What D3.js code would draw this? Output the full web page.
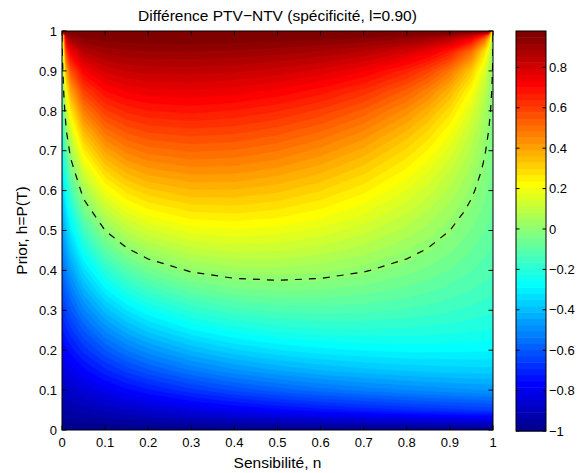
<!DOCTYPE html>
<html><head><meta charset="utf-8">
<script src="https://cdn.jsdelivr.net/npm/d3@7"></script>
<style>
body{margin:0;background:#fff}
svg{display:block}
text{font-family:"Liberation Sans",Arial,Helvetica,sans-serif;fill:#000}
</style>
</head><body>
<svg id="chart" width="578" height="473"></svg>
<script>
// ---------- data ----------
const sensitivities = [0, 0.01, 0.02, 0.05, 0.1, 0.15, 0.2, 0.3, 0.4, 0.5, 0.6, 0.7, 0.8, 0.85, 0.9, 0.95, 0.98, 0.99, 1];
const priors = [0, 0.05, 0.1, 0.15, 0.2, 0.25, 0.3, 0.35, 0.4, 0.45, 0.5, 0.55, 0.6, 0.65, 0.7, 0.75, 0.8, 0.85, 0.9, 0.95, 0.98, 0.99, 1];
// PTV - NTV, one row per prior (bottom to top), one column per sensitivity
const difference = [
  [-1,-1,-1,-1,-1,-1,-1,-1,-1,-1,-1,-1,-1,-1,-1,-1,-1,-1,-1],
  [-.945,-.940,-.935,-.922,-.900,-.879,-.860,-.824,-.792,-.763,-.737,-.714,-.692,-.682,-.673,-.664,-.659,-.657,-.655],
  [-.890,-.880,-.870,-.842,-.800,-.762,-.728,-.670,-.623,-.585,-.553,-.527,-.505,-.496,-.488,-.480,-.476,-.475,-.474],
  [-.836,-.820,-.805,-.762,-.700,-.648,-.604,-.533,-.481,-.442,-.413,-.392,-.377,-.371,-.367,-.364,-.362,-.362,-.362],
  [-.783,-.760,-.738,-.680,-.600,-.536,-.485,-.409,-.357,-.322,-.300,-.287,-.281,-.280,-.281,-.283,-.284,-.285,-.286],
  [-.730,-.699,-.671,-.597,-.500,-.427,-.371,-.294,-.247,-.219,-.204,-.200,-.204,-.208,-.214,-.222,-.227,-.229,-.231],
  [-.677,-.639,-.603,-.512,-.400,-.321,-.263,-.188,-.146,-.126,-.120,-.125,-.139,-.149,-.160,-.174,-.183,-.186,-.189],
  [-.626,-.577,-.533,-.425,-.300,-.216,-.158,-.087,-.053,-.041,-.043,-.058,-.082,-.097,-.115,-.134,-.147,-.152,-.157],
  [-.574,-.514,-.462,-.337,-.200,-.114,-.056,.008,.035,.040,.029,.005,-.029,-.050,-.074,-.101,-.118,-.124,-.130],
  [-.524,-.451,-.388,-.246,-.100,-.013,.042,.099,.119,.116,.097,.066,.021,-.006,-.036,-.071,-.093,-.101,-.109],
  [-.474,-.385,-.312,-.153,0,.086,.137,.188,.200,.190,.165,.125,.071,.038,0,-.043,-.071,-.081,-.091],
  [-.424,-.318,-.233,-.057,.100,.183,.230,.273,.279,.264,.232,.185,.121,.081,.036,-.016,-.051,-.063,-.076],
  [-.375,-.247,-.149,.041,.200,.279,.321,.357,.357,.337,.300,.246,.173,.127,.074,.011,-.031,-.047,-.063],
  [-.326,-.172,-.060,.144,.300,.373,.411,.439,.435,.411,.370,.311,.229,.177,.115,.040,-.012,-.031,-.051],
  [-.278,-.091,.036,.250,.400,.466,.498,.520,.512,.486,.442,.380,.291,.232,.160,.072,.007,-.016,-.041],
  [-.231,-.002,.141,.360,.500,.557,.584,.600,.590,.563,.519,.455,.360,.296,.214,.109,.030,-.0003,-.032],
  [-.184,.101,.258,.475,.600,.648,.669,.680,.668,.642,.600,.537,.440,.371,.281,.156,.057,.018,-.024],
  [-.137,.223,.392,.596,.700,.737,.753,.760,.748,.725,.687,.629,.536,.465,.367,.221,.094,.042,-.017],
  [-.091,.382,.550,.723,.800,.826,.836,.839,.830,.812,.782,.734,.653,.587,.488,.322,.155,.080,-.011],
  [-.045,.610,.746,.857,.900,.913,.918,.919,.914,.903,.885,.856,.802,.754,.673,.508,.292,.169,-.005],
  [-.018,.812,.889,.942,.960,.965,.967,.968,.965,.960,.953,.939,.913,.889,.843,.729,.519,.350,-.002],
  [-.009,.899,.943,.971,.980,.983,.984,.984,.983,.980,.976,.969,.955,.942,.916,.845,.686,.523,-.001],
  [1,1,1,1,1,1,1,1,1,1,1,1,1,1,1,1,1,1,-.001]
];
const xTicks = [0, 0.1, 0.2, 0.3, 0.4, 0.5, 0.6, 0.7, 0.8, 0.9, 1];
const yTicks = [0, 0.1, 0.2, 0.3, 0.4, 0.5, 0.6, 0.7, 0.8, 0.9, 1];
const colorTicks = [-1, -0.8, -0.6, -0.4, -0.2, 0, 0.2, 0.4, 0.6, 0.8];
const colorDomain = [-1, 0.98];
const zeroLevel = 0;
const titleText = "Différence PTV\u2212NTV (spécificité, l=0.90)";
const xLabelText = "Sensibilité, n";
const yLabelText = "Prior, h=P(T)";

// ---------- layout ----------
const plot = {left: 62, right: 493, top: 31, bottom: 430};
const cbar = {left: 516, right: 546, top: 31, bottom: 431};
const nColors = 64;

// MATLAB-style jet colormap
function jet(m) {
  const n = Math.ceil(m / 4);
  const u = [...d3.range(1, n + 1).map(i => i / n), ...Array(n - 1).fill(1), ...d3.range(n, 0, -1).map(i => i / n)];
  const g0 = Math.ceil(n / 2) - (m % 4 === 1 ? 1 : 0);
  const J = Array.from({length: m}, () => [0, 0, 0]);
  u.forEach((v, k) => {
    const g = g0 + k + 1, r = g + n, b = g - n;
    if (r >= 1 && r <= m) J[r - 1][0] = v;
    if (g >= 1 && g <= m) J[g - 1][1] = v;
    if (b >= 1 && b <= m) J[b - 1][2] = v;
  });
  return J.map(c => d3.rgb(c[0] * 255, c[1] * 255, c[2] * 255).formatHex());
}
const jetColors = jet(nColors);
const color = d3.scaleQuantize(colorDomain, jetColors);
const step = (colorDomain[1] - colorDomain[0]) / nColors;
const levels = d3.range(nColors).map(k => colorDomain[0] + k * step);

const svg = d3.select("#chart");
const x = d3.scaleLinear([0, 1], [plot.left, plot.right]);
const y = d3.scaleLinear([0, 1], [plot.bottom, plot.top]);

const dx = sensitivities.length, dy = priors.length;
const values = difference.flat();
// grid coordinate (sample i sits at i+0.5) -> data value
const colToN = d3.scaleLinear(d3.range(dx).map(i => i + 0.5), sensitivities).clamp(true);
const rowToH = d3.scaleLinear(d3.range(dy).map(j => j + 0.5), priors).clamp(true);
const toPx = (px, py) => [x(colToN(px)), y(rowToH(py))];
const proj = d3.geoTransform({point(px, py) { const p = toPx(px, py); this.stream.point(p[0], p[1]); }});
const path = d3.geoPath(proj);

svg.append("clipPath").attr("id", "clip").append("rect")
  .attr("x", plot.left).attr("y", plot.top)
  .attr("width", plot.right - plot.left).attr("height", plot.bottom - plot.top);

const field = svg.append("g").attr("clip-path", "url(#clip)");
field.append("rect").attr("x", plot.left).attr("y", plot.top)
  .attr("width", plot.right - plot.left).attr("height", plot.bottom - plot.top)
  .attr("fill", jetColors[0]);
const bands = d3.contours().size([dx, dy]).thresholds(levels)(values);
field.selectAll("path.band").data(bands).join("path")
  .attr("class", "band")
  .attr("d", path)
  .attr("fill", d => color(d.value + step / 2))
  .attr("stroke", d => color(d.value + step / 2))
  .attr("stroke-width", 0.4);

// zero contour (dashed), skipping parts lying on the plot frame
const zc = d3.contours().size([dx, dy]).contour(values, zeroLevel);
const eps = 0.01;
function edges(p) {
  const e = [];
  if (Math.abs(p[0] - plot.left) < eps) e.push("l");
  if (Math.abs(p[0] - plot.right) < eps) e.push("r");
  if (Math.abs(p[1] - plot.top) < eps) e.push("t");
  if (Math.abs(p[1] - plot.bottom) < eps) e.push("b");
  return e;
}
let dStr = "";
zc.coordinates.forEach(poly => poly.forEach(ring => {
  const pts = ring.map(c => toPx(c[0], c[1]));
  let penDown = false;
  for (let i = 1; i < pts.length; i++) {
    const a = pts[i - 1], b = pts[i];
    const ea = edges(a), eb = edges(b);
    const onFrame = ea.some(e => eb.includes(e));
    if (onFrame) { penDown = false; continue; }
    if (!penDown) { dStr += `M${a[0].toFixed(2)},${a[1].toFixed(2)}`; penDown = true; }
    dStr += `L${b[0].toFixed(2)},${b[1].toFixed(2)}`;
  }
}));
field.append("path").attr("d", dStr).attr("fill", "none")
  .attr("stroke", "#000").attr("stroke-width", 1.2)
  .attr("stroke-dasharray", "7,7");

// axes frame and ticks (inward, mirrored)
const fmt = d3.format("~g");
const tickLen = 4.5;
const axes = svg.append("g").attr("stroke", "#000").attr("stroke-width", 1);
xTicks.forEach(t => {
  const px = x(t);
  axes.append("line").attr("x1", px).attr("x2", px).attr("y1", plot.bottom).attr("y2", plot.bottom - tickLen);
  axes.append("line").attr("x1", px).attr("x2", px).attr("y1", plot.top).attr("y2", plot.top + tickLen);
});
yTicks.forEach(t => {
  const py = y(t);
  axes.append("line").attr("x1", plot.left).attr("x2", plot.left + tickLen).attr("y1", py).attr("y2", py);
  axes.append("line").attr("x1", plot.right).attr("x2", plot.right - tickLen).attr("y1", py).attr("y2", py);
});
axes.append("rect").attr("x", plot.left).attr("y", plot.top)
  .attr("width", plot.right - plot.left).attr("height", plot.bottom - plot.top)
  .attr("fill", "none");

const labels = svg.append("g").attr("font-size", 13);
xTicks.forEach(t => {
  labels.append("text").attr("x", x(t)).attr("y", plot.bottom + 17)
    .attr("text-anchor", "middle").text(fmt(t));
});
yTicks.forEach(t => {
  labels.append("text").attr("x", plot.left - 5).attr("y", y(t) + 4.7)
    .attr("text-anchor", "end").text(fmt(t));
});

// colorbar
const cy = d3.scaleLinear(colorDomain, [cbar.bottom, cbar.top]);
const cb = svg.append("g");
levels.forEach(v => {
  cb.append("rect").attr("x", cbar.left).attr("width", cbar.right - cbar.left)
    .attr("y", cy(v + step)).attr("height", cy(v) - cy(v + step) + 0.5)
    .attr("fill", color(v + step / 2));
});
colorTicks.forEach(t => {
  const py = cy(t);
  cb.append("line").attr("x1", cbar.right).attr("x2", cbar.right - 3.5).attr("y1", py).attr("y2", py).attr("stroke", "#000");
  cb.append("line").attr("x1", cbar.left).attr("x2", cbar.left + 3.5).attr("y1", py).attr("y2", py).attr("stroke", "#000");
  cb.append("text").attr("x", cbar.right + 3).attr("y", py + 4.7).attr("font-size", 13).text(fmt(t));
});
cb.append("rect").attr("x", cbar.left).attr("y", cbar.top)
  .attr("width", cbar.right - cbar.left).attr("height", cbar.bottom - cbar.top)
  .attr("fill", "none").attr("stroke", "#000");

// titles
svg.append("text").attr("x", (plot.left + plot.right) / 2).attr("y", 21)
  .attr("text-anchor", "middle").attr("font-size", 15.5).text(titleText);
svg.append("text").attr("x", (plot.left + plot.right) / 2).attr("y", 468)
  .attr("text-anchor", "middle").attr("font-size", 15.5).text(xLabelText);
svg.append("text").attr("transform", `translate(27,${(plot.top + plot.bottom) / 2}) rotate(-90)`)
  .attr("text-anchor", "middle").attr("font-size", 15.5).text(yLabelText);
</script>
</body></html>
